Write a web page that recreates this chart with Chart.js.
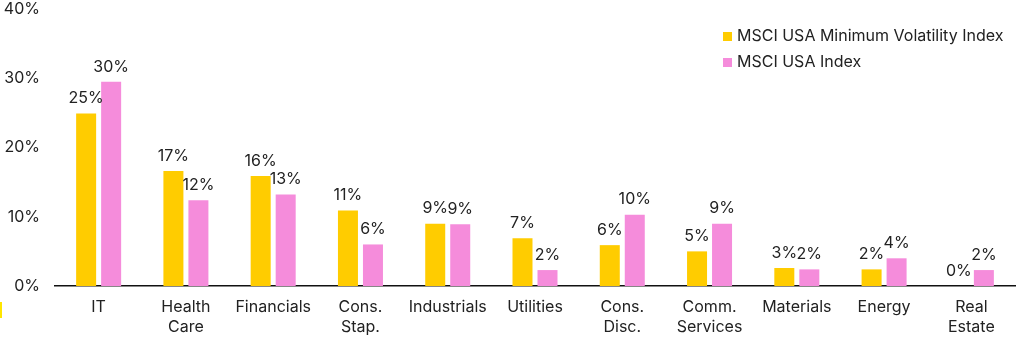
<!DOCTYPE html>
<html>
<head>
<meta charset="utf-8">
<script src="https://cdn.jsdelivr.net/npm/chart.js@4"></script>
<style>
  html, body { margin: 0; padding: 0; background: #fff; }
  #wrap { position: relative; width: 1020px; height: 337px; }
  #legend { position: absolute; left: 723px; top: 24px; font-family: Inter, sans-serif; font-size: 16px; color: #222; }
  #legend div { height: 26px; line-height: 22px; }
  #legend span { display: inline-block; width: 9px; height: 9px; margin-right: 5px; vertical-align: 0px; }
  #mark { position: absolute; left: 0; top: 302px; width: 2px; height: 16px; background: #ffe600; }
</style>
</head>
<body>
<div id="wrap">
  <canvas id="sectorChart" width="1020" height="337"></canvas>
  <div id="legend">
    <div><span style="background:#ffcc00"></span>MSCI USA Minimum Volatility Index</div>
    <div><span style="background:#f58cdb"></span>MSCI USA Index</div>
  </div>
  <div id="mark"></div>
</div>
<script>
// sector weights, min vol vs. parent index
var sectors = ['IT', ['Health', 'Care'], 'Financials', ['Cons.', 'Stap.'], 'Industrials', 'Utilities',
  ['Cons.', 'Disc.'], ['Comm.', 'Services'], 'Materials', 'Energy', ['Real', 'Estate']];
var minVol = [24.9, 16.6, 15.9, 10.9, 9.0, 6.9, 5.9, 5.0, 2.6, 2.4, 0.0];
var msciUsa = [29.5, 12.4, 13.2, 6.0, 8.9, 2.3, 10.3, 9.0, 2.4, 4.0, 2.3];
var yTicks = [0, 10, 20, 30, 40];

var barLabels = {
  id: 'barLabels',
  afterDatasetsDraw: function(chart) {
    var ctx = chart.ctx;
    ctx.save();
    ctx.font = '16px Inter, sans-serif';
    ctx.fillStyle = '#222';
    ctx.textAlign = 'center';
    ctx.textBaseline = 'bottom';
    chart.data.datasets.forEach(function(ds, i) {
      chart.getDatasetMeta(i).data.forEach(function(bar, j) {
        ctx.fillText(Math.round(ds.data[j]) + '%', bar.x, bar.y - 7);
      });
    });
    ctx.restore();
  }
};

document.addEventListener('DOMContentLoaded', function() {
  var ctx = document.getElementById('sectorChart');
  new Chart(ctx, {
    type: 'bar',
    data: {
      labels: sectors,
      datasets: [
        { label: 'MSCI USA Minimum Volatility Index', data: minVol, backgroundColor: '#ffcc00' },
        { label: 'MSCI USA Index', data: msciUsa, backgroundColor: '#f58cdb' }
      ]
    },
    options: {
      responsive: false,
      animation: false,
      layout: { padding: { top: 0, right: 5, left: 0, bottom: 0 } },
      categoryPercentage: 0.573,
      barPercentage: 0.8,
      plugins: { legend: { display: false }, tooltip: { enabled: false } },
      scales: {
        x: {
          grid: { display: false, drawTicks: false },
          border: { color: '#111', width: 1.5 },
          ticks: { color: '#222', font: { family: 'Inter, sans-serif', size: 16 }, padding: 12, maxRotation: 0, autoSkip: false },
          afterFit: function(s) { s.height = 51; }
        },
        y: {
          min: 0, max: 40,
          afterBuildTicks: function(s) { s.ticks = yTicks.map(function(v) { return { value: v }; }); },
          grid: { display: false, drawTicks: false },
          border: { display: false },
          ticks: { color: '#222', font: { family: 'Inter, sans-serif', size: 16 }, padding: 15,
            callback: function(v) { return v + '%'; } },
          afterFit: function(s) { s.width = 55; s.paddingTop = 9; }
        }
      }
    },
    plugins: [barLabels]
  });
});
</script>
</body>
</html>
